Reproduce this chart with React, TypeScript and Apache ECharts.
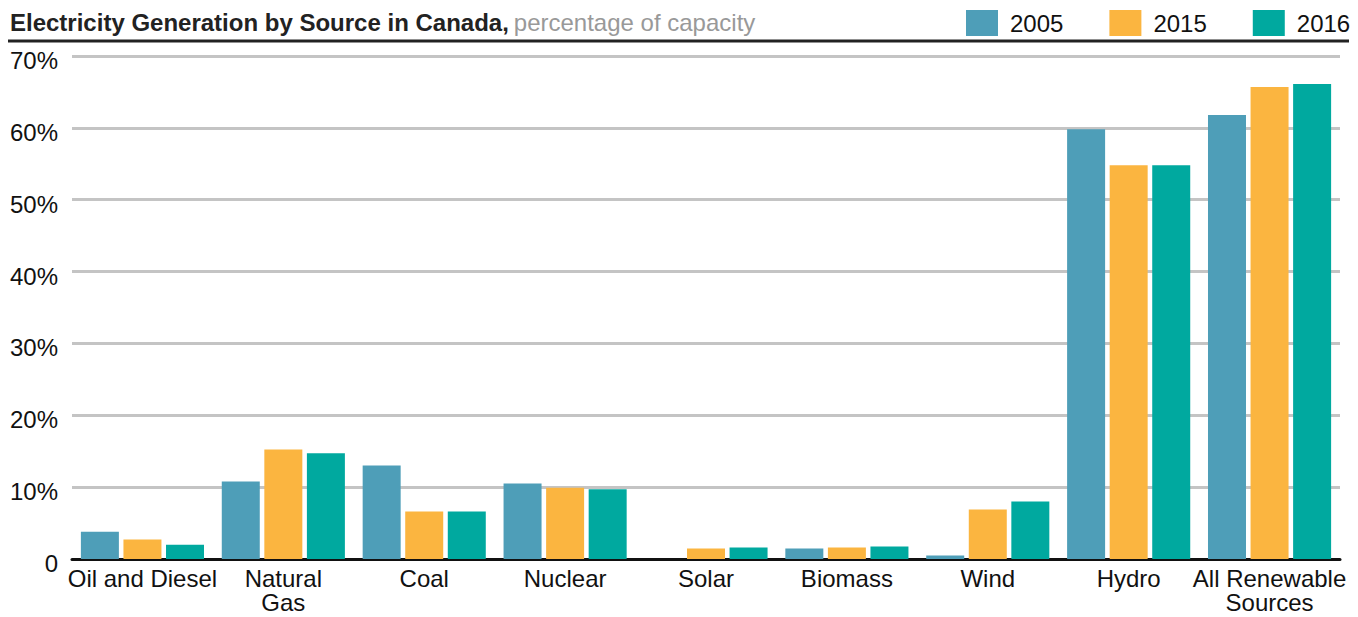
import React, { useEffect, useRef } from "react";
import * as echarts from "echarts";

const categories = [
  "Oil and Diesel",
  "Natural\nGas",
  "Coal",
  "Nuclear",
  "Solar",
  "Biomass",
  "Wind",
  "Hydro",
  "All Renewable\nSources",
];
const years = ["2005", "2015", "2016"];
const values2005 = [3.8, 10.8, 13.0, 10.5, 0, 1.45, 0.5, 59.8, 61.8];
const values2015 = [2.7, 15.25, 6.6, 9.9, 1.45, 1.6, 6.9, 54.8, 65.7];
const values2016 = [2.0, 14.7, 6.6, 9.7, 1.6, 1.75, 8.0, 54.8, 66.1];
const yTicks = [0, 10, 20, 30, 40, 50, 60, 70];
const colors = ["#4e9eb8", "#fbb540", "#00a99f"];

export default function App() {
  const ref = useRef<HTMLDivElement>(null);
  useEffect(() => {
    if (!ref.current) return;
    const chart = echarts.init(ref.current, null, { renderer: "svg" });
    const font = "'Liberation Sans', Arial, Helvetica, sans-serif";
    const seriesData = [values2005, values2015, values2016];
    chart.setOption({
      animation: false,
      textStyle: { fontFamily: font },
      title: {
        left: 10,
        top: 10,
        padding: 0,
        text: "{b|Electricity Generation by Source in Canada,} {g|percentage of capacity}",
        textStyle: {
          fontWeight: "normal",
          rich: {
            b: { fontSize: 24, fontWeight: "bold", color: "#222", fontFamily: font },
            g: { fontSize: 24, fontWeight: "normal", color: "#999", fontFamily: font },
          },
        },
      },
      legend: {
        left: 966,
        top: 10,
        padding: 0,
        itemWidth: 32,
        itemHeight: 26,
        itemGap: 46,
        icon: "rect",
        data: years,
        textStyle: { fontSize: 24, color: "#111", padding: [0, 0, 0, 7], fontFamily: font },
      },
      graphic: [
        {
          type: "line",
          shape: { x1: 8, y1: 41, x2: 1349, y2: 41 },
          style: { stroke: "#222", lineWidth: 3 },
        },
      ],
      grid: {
        left: 72,
        right: 18,
        top: 56,
        bottom: 58,
        containLabel: false,
        outerBoundsMode: "none",
      },
      xAxis: {
        type: "category",
        data: categories,
        axisLine: { lineStyle: { color: "#111", width: 3 } },
        axisTick: { show: false },
        axisLabel: {
          interval: 0,
          fontSize: 24,
          lineHeight: 24.5,
          color: "#111",
          margin: 7,
          fontFamily: font,
        },
      },
      yAxis: {
        type: "value",
        min: yTicks[0],
        max: yTicks[yTicks.length - 1],
        interval: 10,
        axisLine: { show: false },
        axisTick: { show: false },
        splitLine: { lineStyle: { color: "#c4c4c4", width: 3 } },
        axisLabel: {
          color: "#111",
          margin: 14,
          formatter: (v: number) => "{a|" + (v === 0 ? "0" : v + "%") + "}",
          rich: {
            a: { fontSize: 24, color: "#111", fontFamily: font, padding: [9, 0, 0, 0] },
          },
        },
      },
      series: years.map((y, i) => ({
        name: y,
        type: "bar",
        data: seriesData[i],
        barWidth: 38,
        barGap: "12%",
        itemStyle: { color: colors[i] },
      })),
    });
    return () => chart.dispose();
  }, []);
  return (
    <div
      ref={ref}
      style={{ position: "fixed", left: 0, top: 0, width: 1358, height: 617, background: "#fff" }}
    />
  );
}
